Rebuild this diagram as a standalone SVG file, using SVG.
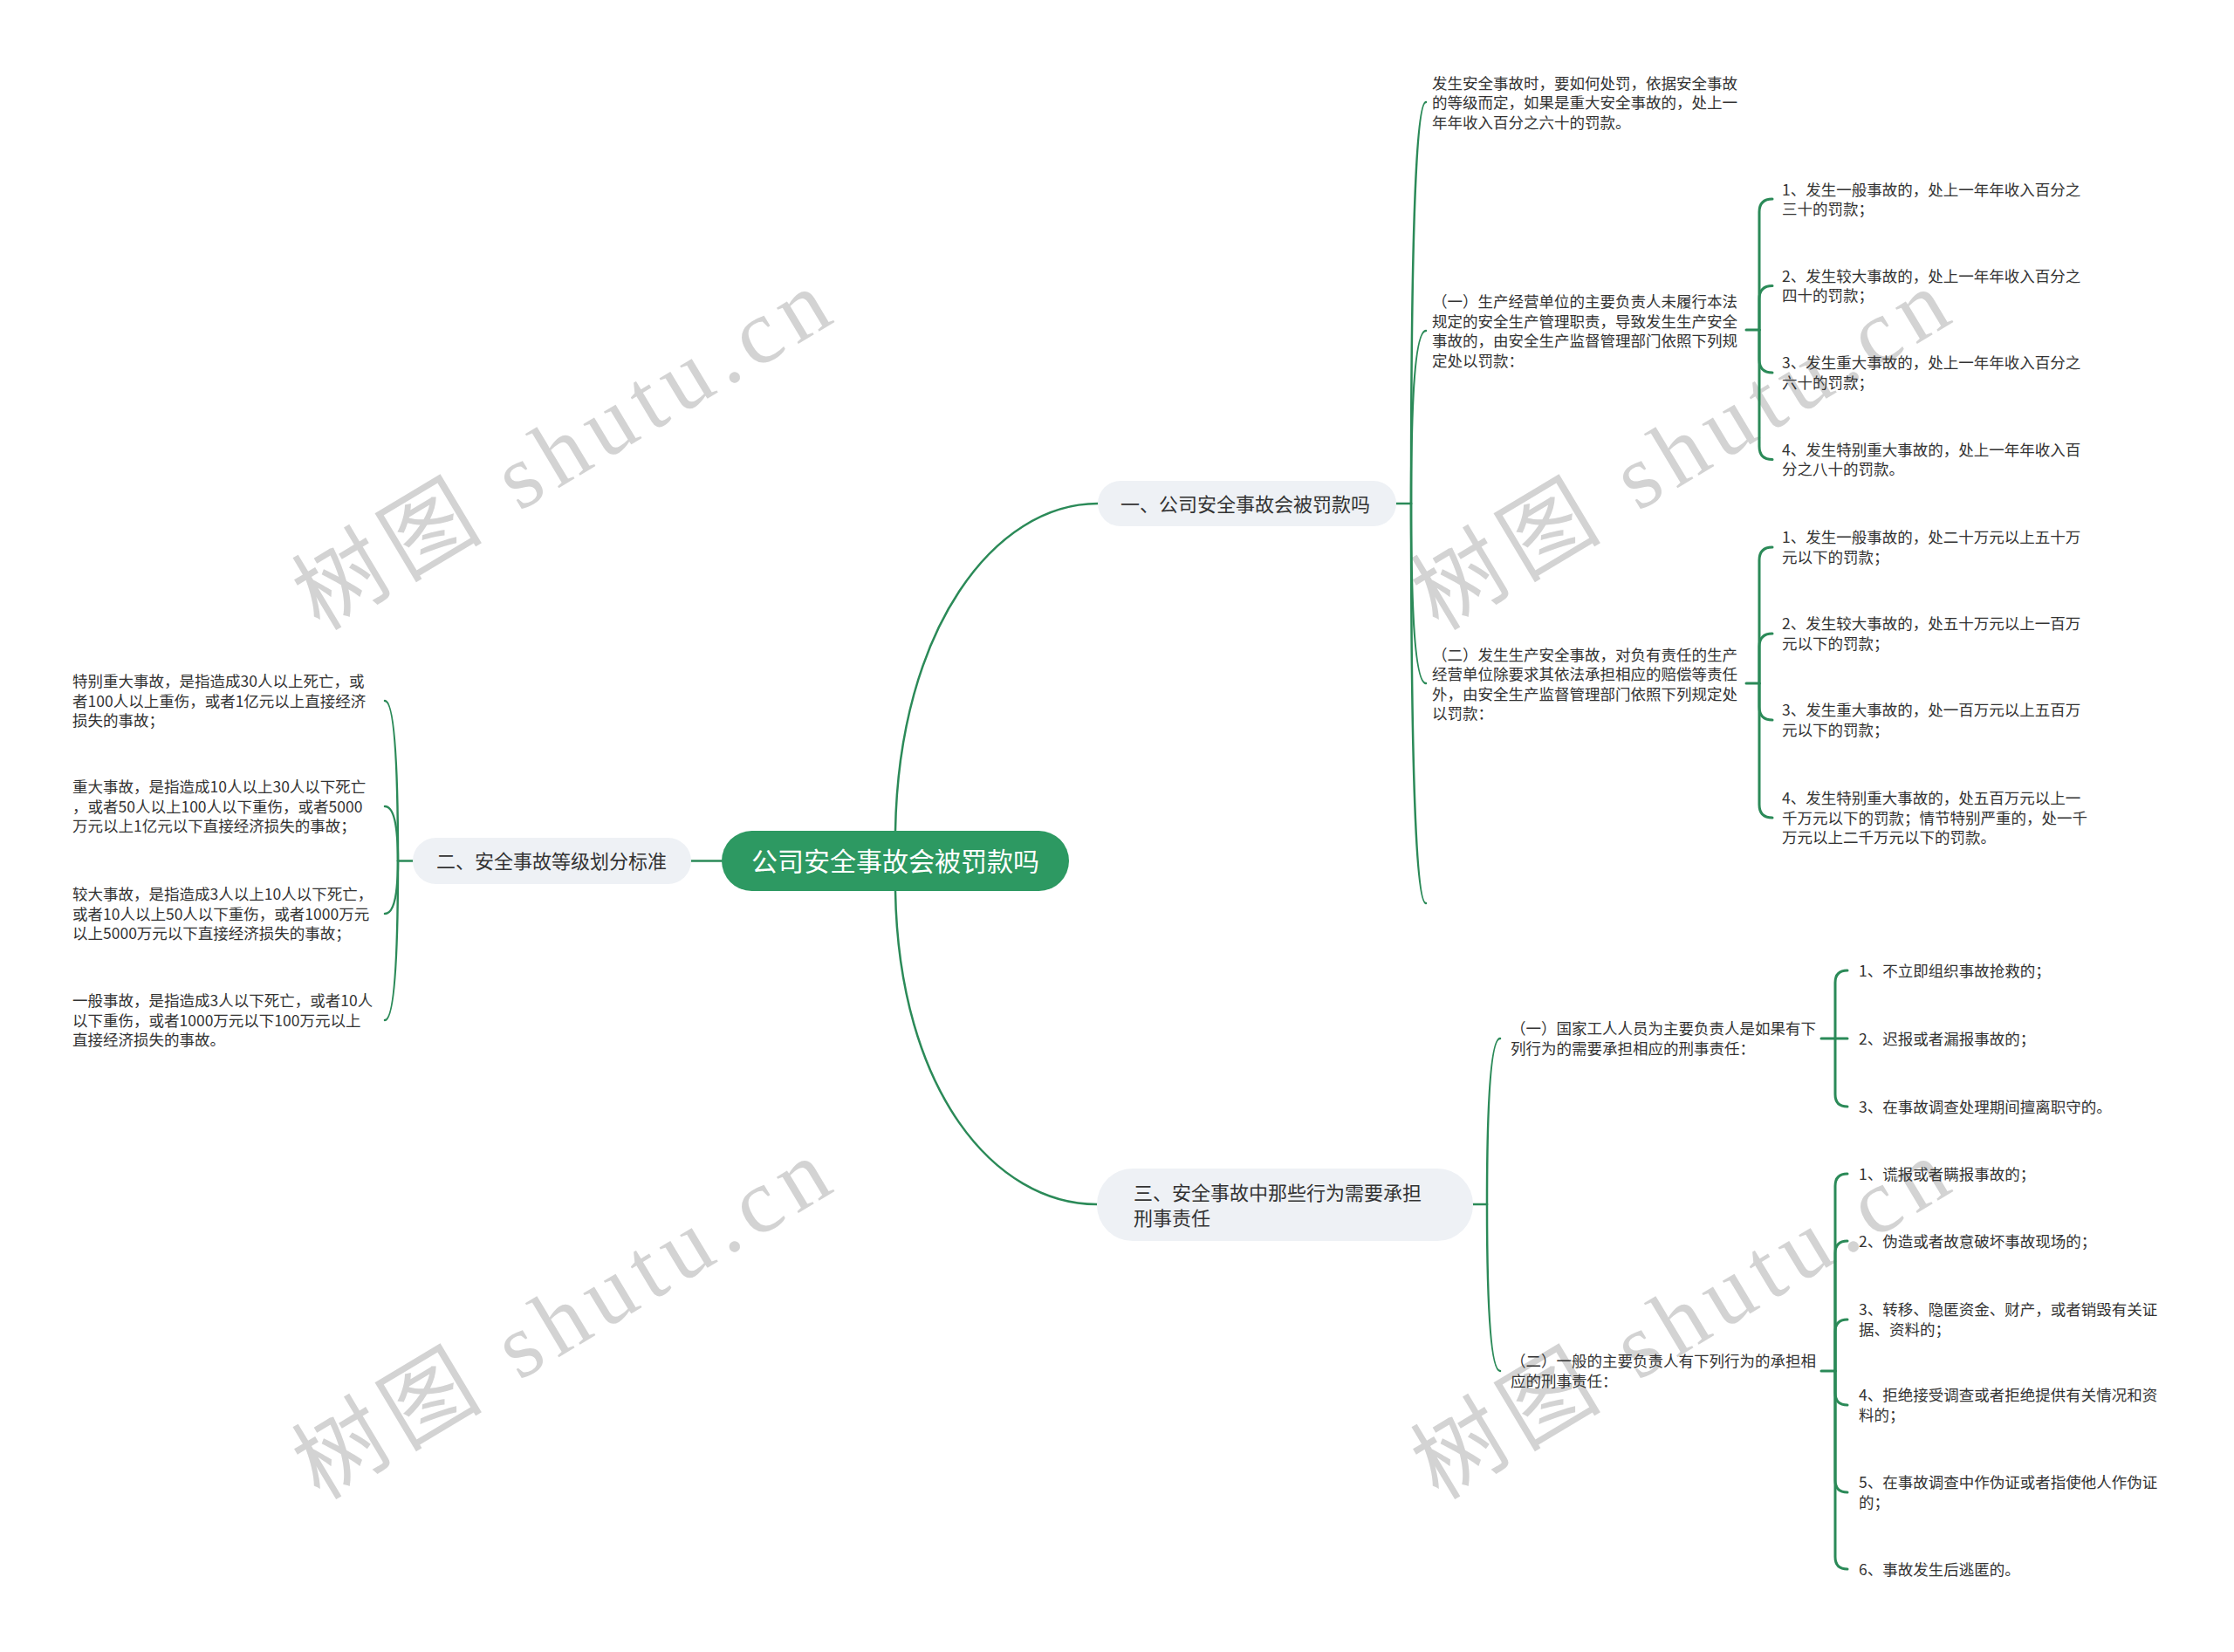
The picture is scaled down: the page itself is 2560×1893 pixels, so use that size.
<svg xmlns="http://www.w3.org/2000/svg" width="2560" height="1893" viewBox="0 0 2560 1893">
<style>
.t{font-family:"Noto Sans CJK SC","Noto Sans",sans-serif;font-size:17.5px;fill:#333}
.b{font-family:"Noto Sans CJK SC","Noto Sans",sans-serif;font-size:22px;fill:#333}
.r{font-family:"Noto Sans CJK SC","Noto Sans",sans-serif;font-size:30px;fill:#fff}
.wm{font-family:"Liberation Serif","Noto Sans CJK SC",serif;font-size:105px;fill:#d3d3d3}
.ln{fill:none;stroke:#2b8a58;stroke-width:2.5;stroke-linecap:round}
.bk{fill:none;stroke:#2b8a58;stroke-width:3;stroke-linecap:round}
.pill{fill:#eef1f5}
</style>
<rect width="2560" height="1893" fill="#fff"/>
<g id="watermarks">
<text class="wm" x="662" y="546" text-anchor="middle" textLength="690" lengthAdjust="spacing" transform="rotate(-31 662 546)">树图 shutu.cn</text>
<text class="wm" x="1944" y="546" text-anchor="middle" textLength="690" lengthAdjust="spacing" transform="rotate(-31 1944 546)">树图 shutu.cn</text>
<text class="wm" x="662" y="1542" text-anchor="middle" textLength="690" lengthAdjust="spacing" transform="rotate(-31 662 1542)">树图 shutu.cn</text>
<text class="wm" x="1944" y="1542" text-anchor="middle" textLength="690" lengthAdjust="spacing" transform="rotate(-31 1944 1542)">树图 shutu.cn</text>
</g>
<g id="connectors">
<path class="ln" d="M827,986.5 H792"/>
<path class="ln" d="M1026,952 C1030,720 1140,577 1258,577"/>
<path class="ln" d="M1026,1021 C1030,1250 1140,1380 1257,1380"/>
<path class="ln" d="M1600,577 H1617"/>
<path class="ln" d="M1617,577 Q1617,117 1634,117"/>
<path class="ln" d="M1617,577 Q1617,379 1634,379"/>
<path class="ln" d="M1617,577 Q1617,783 1634,783"/>
<path class="ln" d="M1617,577 Q1617,1035 1634,1035"/>
<path class="bk" d="M2001,378 H2016"/>
<path class="bk" d="M2016,378 V243 Q2016,228 2031,228"/>
<path class="bk" d="M2016,378 V342.5 Q2016,327.5 2031,327.5"/>
<path class="bk" d="M2016,378 V412 Q2016,427 2031,427"/>
<path class="bk" d="M2016,378 V511.5 Q2016,526.5 2031,526.5"/>
<path class="bk" d="M2001,783 H2016"/>
<path class="bk" d="M2016,783 V642 Q2016,627 2031,627"/>
<path class="bk" d="M2016,783 V741 Q2016,726 2031,726"/>
<path class="bk" d="M2016,783 V810 Q2016,825 2031,825"/>
<path class="bk" d="M2016,783 V922 Q2016,937 2031,937"/>
<path class="ln" d="M473,986.5 H456"/>
<path class="ln" d="M456,986.5 Q456,803 441,803"/>
<path class="ln" d="M456,986.5 Q456,924 441,924"/>
<path class="ln" d="M456,986.5 Q456,1047 441,1047"/>
<path class="ln" d="M456,986.5 Q456,1169 441,1169"/>
<path class="ln" d="M1688,1380 H1704"/>
<path class="ln" d="M1704,1380 Q1704,1190 1719,1190"/>
<path class="ln" d="M1704,1380 Q1704,1571 1719,1571"/>
<path class="bk" d="M2087,1190 H2117"/>
<path class="bk" d="M2103,1190 V1126 Q2103,1112 2117,1112"/>
<path class="bk" d="M2103,1190 V1254 Q2103,1268 2117,1268"/>
<path class="bk" d="M2087,1571 H2103"/>
<path class="bk" d="M2103,1571 V1359 Q2103,1345 2117,1345"/>
<path class="bk" d="M2103,1571 V1436 Q2103,1422 2117,1422"/>
<path class="bk" d="M2103,1571 V1526 Q2103,1512 2117,1512"/>
<path class="bk" d="M2103,1571 V1596 Q2103,1610 2117,1610"/>
<path class="bk" d="M2103,1571 V1696 Q2103,1710 2117,1710"/>
<path class="bk" d="M2103,1571 V1784 Q2103,1798 2117,1798"/>
</g>
<g id="root">
<rect x="827" y="952" width="398" height="69" rx="34.5" fill="#2d9962"/>
<text class="r" x="1026" y="998" text-anchor="middle">公司安全事故会被罚款吗</text>
</g>
<g id="b1">
<rect class="pill" x="1258" y="551" width="342" height="52" rx="26"/>
<text class="b" x="1284" y="585.5">一、公司安全事故会被罚款吗</text>
</g>
<g id="b2">
<rect class="pill" x="473" y="960" width="319" height="53" rx="26.5"/>
<text class="b" x="500" y="995">二、安全事故等级划分标准</text>
</g>
<g id="b3">
<rect class="pill" x="1257" y="1339" width="431" height="83" rx="41"/>
<text class="b"><tspan x="1299" y="1374.5">三、安全事故中那些行为需要承担</tspan><tspan x="1299" y="1403.5">刑事责任</tspan></text>
</g>
<g id="b1-t1">
<text class="t"><tspan x="1641" y="101.5">发生安全事故时，要如何处罚，依据安全事故</tspan><tspan x="1641" y="124">的等级而定，如果是重大安全事故的，处上一</tspan><tspan x="1641" y="146.5">年年收入百分之六十的罚款。</tspan></text>
</g>
<g id="b1-t2">
<text class="t"><tspan x="1641" y="352">（一）生产经营单位的主要负责人未履行本法</tspan><tspan x="1641" y="374.5">规定的安全生产管理职责，导致发生生产安全</tspan><tspan x="1641" y="397">事故的，由安全生产监督管理部门依照下列规</tspan><tspan x="1641" y="419.5">定处以罚款：</tspan></text>
</g>
<g id="b1-t2-c1"><text class="t"><tspan x="2042" y="223.5">1、发生一般事故的，处上一年年收入百分之</tspan><tspan x="2042" y="246">三十的罚款；</tspan></text></g>
<g id="b1-t2-c2"><text class="t"><tspan x="2042" y="322.75">2、发生较大事故的，处上一年年收入百分之</tspan><tspan x="2042" y="345.25">四十的罚款；</tspan></text></g>
<g id="b1-t2-c3"><text class="t"><tspan x="2042" y="422.25">3、发生重大事故的，处上一年年收入百分之</tspan><tspan x="2042" y="444.75">六十的罚款；</tspan></text></g>
<g id="b1-t2-c4"><text class="t"><tspan x="2042" y="521.75">4、发生特别重大事故的，处上一年年收入百</tspan><tspan x="2042" y="544.25">分之八十的罚款。</tspan></text></g>
<g id="b1-t3">
<text class="t"><tspan x="1641" y="756.5">（二）发生生产安全事故，对负有责任的生产</tspan><tspan x="1641" y="779">经营单位除要求其依法承担相应的赔偿等责任</tspan><tspan x="1641" y="801.5">外，由安全生产监督管理部门依照下列规定处</tspan><tspan x="1641" y="824">以罚款：</tspan></text>
</g>
<g id="b1-t3-c1"><text class="t"><tspan x="2042" y="622.25">1、发生一般事故的，处二十万元以上五十万</tspan><tspan x="2042" y="644.75">元以下的罚款；</tspan></text></g>
<g id="b1-t3-c2"><text class="t"><tspan x="2042" y="721.25">2、发生较大事故的，处五十万元以上一百万</tspan><tspan x="2042" y="743.75">元以下的罚款；</tspan></text></g>
<g id="b1-t3-c3"><text class="t"><tspan x="2042" y="820.25">3、发生重大事故的，处一百万元以上五百万</tspan><tspan x="2042" y="842.75">元以下的罚款；</tspan></text></g>
<g id="b1-t3-c4"><text class="t"><tspan x="2042" y="921">4、发生特别重大事故的，处五百万元以上一</tspan><tspan x="2042" y="943.5">千万元以下的罚款；情节特别严重的，处一千</tspan><tspan x="2042" y="966">万元以上二千万元以下的罚款。</tspan></text></g>
<g id="b2-c1"><text class="t"><tspan x="83" y="787">特别重大事故，是指造成30人以上死亡，或</tspan><tspan x="83" y="809.5">者100人以上重伤，或者1亿元以上直接经济</tspan><tspan x="83" y="832">损失的事故；</tspan></text></g>
<g id="b2-c2"><text class="t"><tspan x="83" y="908">重大事故，是指造成10人以上30人以下死亡</tspan><tspan x="83" y="930.5">，或者50人以上100人以下重伤，或者5000</tspan><tspan x="83" y="953">万元以上1亿元以下直接经济损失的事故；</tspan></text></g>
<g id="b2-c3"><text class="t"><tspan x="83" y="1031">较大事故，是指造成3人以上10人以下死亡，</tspan><tspan x="83" y="1053.5">或者10人以上50人以下重伤，或者1000万元</tspan><tspan x="83" y="1076">以上5000万元以下直接经济损失的事故；</tspan></text></g>
<g id="b2-c4"><text class="t"><tspan x="83" y="1153">一般事故，是指造成3人以下死亡，或者10人</tspan><tspan x="83" y="1175.5">以下重伤，或者1000万元以下100万元以上</tspan><tspan x="83" y="1198">直接经济损失的事故。</tspan></text></g>
<g id="b3-t1"><text class="t"><tspan x="1731" y="1185.25">（一）国家工人人员为主要负责人是如果有下</tspan><tspan x="1731" y="1207.75">列行为的需要承担相应的刑事责任：</tspan></text></g>
<g id="b3-t1-c1"><text class="t" x="2130" y="1118.5">1、不立即组织事故抢救的；</text></g>
<g id="b3-t1-c2"><text class="t" x="2130" y="1196.5">2、迟报或者漏报事故的；</text></g>
<g id="b3-t1-c3"><text class="t" x="2130" y="1274.5">3、在事故调查处理期间擅离职守的。</text></g>
<g id="b3-t2"><text class="t"><tspan x="1731" y="1566.25">（二）一般的主要负责人有下列行为的承担相</tspan><tspan x="1731" y="1588.75">应的刑事责任：</tspan></text></g>
<g id="b3-t2-c1"><text class="t" x="2130" y="1351.5">1、谎报或者瞒报事故的；</text></g>
<g id="b3-t2-c2"><text class="t" x="2130" y="1428.5">2、伪造或者故意破坏事故现场的；</text></g>
<g id="b3-t2-c3"><text class="t"><tspan x="2130" y="1507.25">3、转移、隐匿资金、财产，或者销毁有关证</tspan><tspan x="2130" y="1529.75">据、资料的；</tspan></text></g>
<g id="b3-t2-c4"><text class="t"><tspan x="2130" y="1605.25">4、拒绝接受调查或者拒绝提供有关情况和资</tspan><tspan x="2130" y="1627.75">料的；</tspan></text></g>
<g id="b3-t2-c5"><text class="t"><tspan x="2130" y="1705.25">5、在事故调查中作伪证或者指使他人作伪证</tspan><tspan x="2130" y="1727.75">的；</tspan></text></g>
<g id="b3-t2-c6"><text class="t" x="2130" y="1804.5">6、事故发生后逃匿的。</text></g>
</svg>
